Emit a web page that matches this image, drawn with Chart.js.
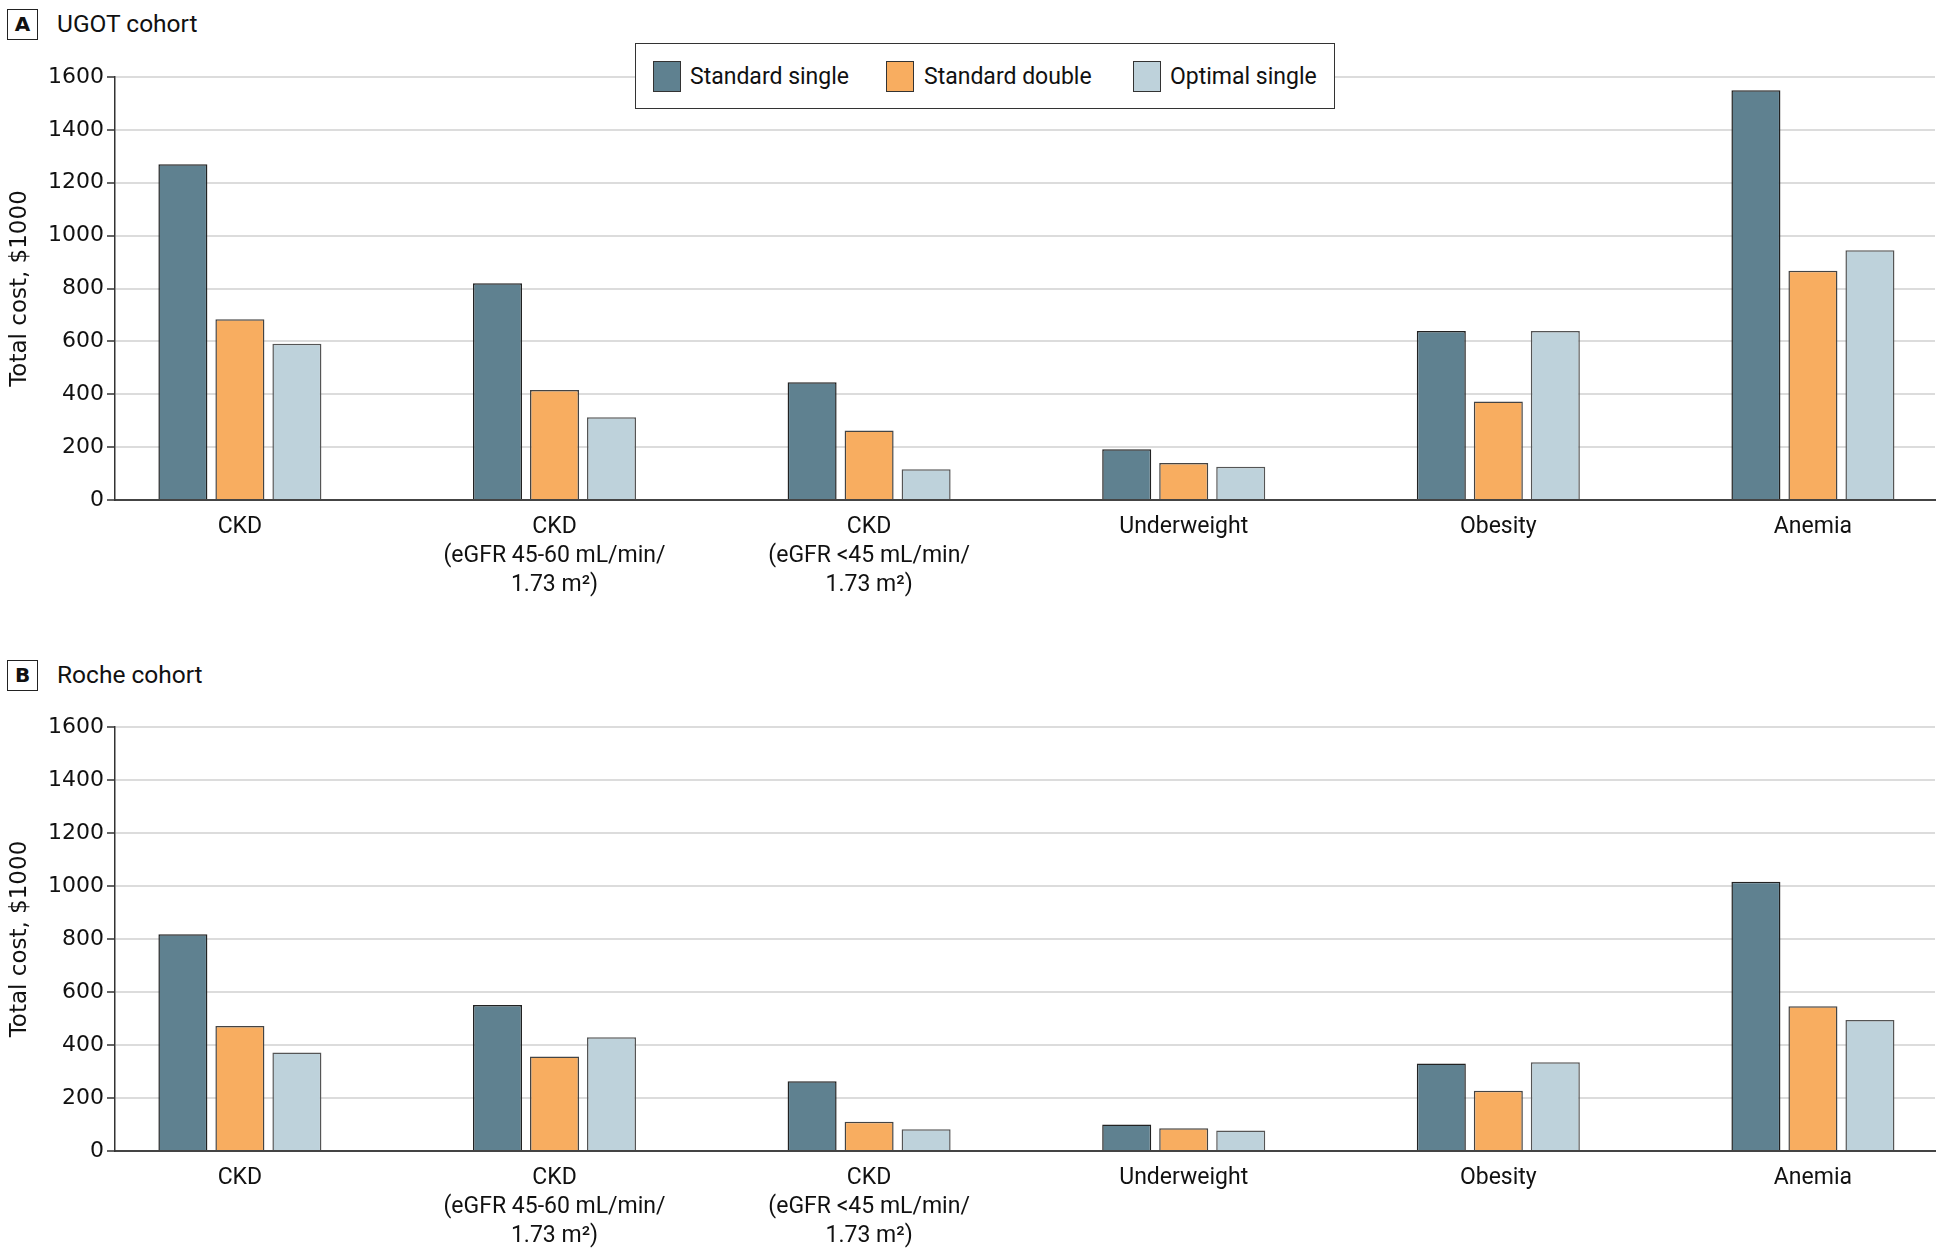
<!DOCTYPE html>
<html>
<head>
<meta charset="utf-8">
<script src="https://cdn.jsdelivr.net/npm/chart.js@4.4.1/dist/chart.umd.min.js"></script>
<style>
    body { margin: 0; background: #fff; width: 1942px; height: 1252px; position: relative; overflow: hidden; font-family: Roboto, sans-serif; color: #111; }
    canvas { position: absolute; left: 0; }
    #chartA { top: 0; }
    #chartB { top: 640px; }
    .panel-tag { position: absolute; left: 7px; width: 29px; height: 29px; border: 1.5px solid #222; font: bold 20px "DejaVu Sans", sans-serif; text-align: center; line-height: 29px; }
    .panel-title { position: absolute; left: 57px; font-size: 24.5px; line-height: 30px; }
    #legend { position: absolute; left: 635px; top: 43px; width: 698px; height: 64px; border: 1.5px solid #333; background: #fff; z-index: 2; }
    .swatch { position: absolute; top: 17px; width: 28px; height: 31px; border: 1.5px solid #333; box-sizing: border-box; }
    .legend-text { position: absolute; top: 17px; font-size: 23px; line-height: 31px; }
</style>
</head>
<body>
<div class="panel-tag" style="top:9px">A</div>
<div class="panel-title" style="top:9px">UGOT cohort</div>
<div class="panel-tag" style="top:660px">B</div>
<div class="panel-title" style="top:660px">Roche cohort</div>
<div id="legend"></div>
<canvas id="chartA" width="1942" height="620"></canvas>
<canvas id="chartB" width="1942" height="612"></canvas>
<script>
// Chart data (total cost, $1000)
const categories = [
    'CKD',
    ['CKD', '(eGFR 45-60 mL/min/', '1.73 m\u00B2)'],
    ['CKD', '(eGFR <45 mL/min/', '1.73 m\u00B2)'],
    'Underweight',
    'Obesity',
    'Anemia'
];
const seriesNames = ['Standard single', 'Standard double', 'Optimal single'];
const seriesColors = ['#5f8190', '#f8ad60', '#bed2db'];
const seriesBorders = ['#222', '#444', '#555'];

const ugotSingle = [1270, 820, 445, 192, 639, 1550];
const ugotDouble = [684, 416, 263, 140, 373, 867];
const ugotOptimal = [591, 313, 116, 126, 639, 945];

const rocheSingle = [818, 551, 263, 100, 330, 1016];
const rocheDouble = [472, 357, 110, 86, 227, 546];
const rocheOptimal = [372, 429, 82, 77, 335, 494];

const yMax = 1600;
const yStep = 200;

// Build legend
const legend = document.getElementById('legend');
const legendPos = [[17, 54], [250, 288], [497, 534]];
seriesNames.forEach((name, i) => {
    const sw = document.createElement('div');
    sw.className = 'swatch';
    sw.style.left = legendPos[i][0] + 'px';
    sw.style.background = seriesColors[i];
    legend.appendChild(sw);
    const txt = document.createElement('div');
    txt.className = 'legend-text';
    txt.style.left = legendPos[i][1] + 'px';
    txt.textContent = name;
    legend.appendChild(txt);
});

function makeDatasets(seriesList) {
    return seriesList.map((values, i) => ({
        label: seriesNames[i],
        data: values.map((v, idx) => ({ x: idx, y: v })),
        backgroundColor: seriesColors[i],
        borderColor: seriesBorders[i],
        borderWidth: 1.5,
        barPercentage: 0.86,
        categoryPercentage: 0.5436
    }));
}

function createPanel(canvasId, seriesList, padTop, xHeight) {
    const ctx = document.getElementById(canvasId).getContext('2d');
    return new Chart(ctx, {
        type: 'bar',
        data: { datasets: makeDatasets(seriesList) },
        options: {
            responsive: false,
            animation: false,
            devicePixelRatio: 1,
            layout: { padding: { top: padTop, right: 7, left: 0, bottom: 0 } },
            plugins: { legend: { display: false }, tooltip: { enabled: false } },
            scales: {
                x: {
                    type: 'linear',
                    min: -0.397,
                    max: 5.388,
                    offset: false,
                    grid: { display: false, drawTicks: false },
                    border: { display: true, color: '#444', width: 2 },
                    afterBuildTicks: (scale) => {
                        scale.ticks = categories.map((_, i) => ({ value: i }));
                    },
                    afterFit: (scale) => { scale.height = xHeight; },
                    ticks: {
                        autoSkip: false,
                        maxRotation: 0,
                        padding: 13,
                        color: '#111',
                        font: { family: 'Roboto', size: 23, lineHeight: 1.25 },
                        callback: (value) => categories[value]
                    }
                },
                y: {
                    min: 0,
                    max: yMax,
                    grid: { color: '#dcdcdc', lineWidth: 2, tickLength: 8, tickColor: '#333', tickWidth: 1.5 },
                    border: { display: true, color: '#333', width: 1.5 },
                    afterFit: (scale) => { scale.width = 115; },
                    ticks: {
                        stepSize: yStep,
                        padding: 3,
                        color: '#111',
                        font: { family: 'DejaVu Sans', size: 22 },
                        callback: (value) => String(value)
                    },
                    title: {
                        display: true,
                        text: 'Total cost, $1000',
                        color: '#111',
                        padding: { top: 6, bottom: 0 },
                        font: { family: 'DejaVu Sans', size: 23 }
                    }
                }
            }
        }
    });
}

createPanel('chartA', [ugotSingle, ugotDouble, ugotOptimal], 77, 120);
createPanel('chartB', [rocheSingle, rocheDouble, rocheOptimal], 87, 101);
</script>
</body>
</html>
